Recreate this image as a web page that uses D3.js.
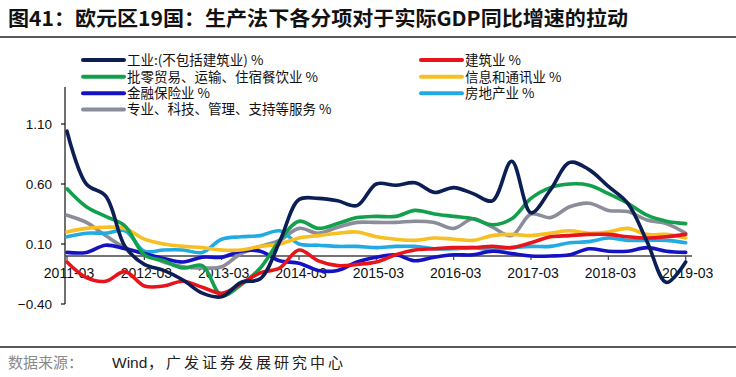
<!DOCTYPE html>
<html>
<head>
<meta charset="utf-8">
<script src="https://cdn.jsdelivr.net/npm/d3@7.9.0/dist/d3.min.js"></script>
<style>
  html, body { margin: 0; padding: 0; background: #fff; }
  svg { display: block; }
</style>
</head>
<body>
<div id="chart"></div>
<script>
// quarterly, 2011Q1 .. 2019Q1
const tickLabels = ["2011-03", "2012-03", "2013-03", "2014-03", "2015-03", "2016-03", "2017-03", "2018-03", "2019-03"];
const yTicks = [-0.40, 0.10, 0.60, 1.10];

const industry = [1.04, 0.60, 0.50, 0.08, -0.07, -0.12, -0.20, -0.31, -0.34, -0.22, -0.19, 0.12, 0.47, 0.48, 0.46, 0.42, 0.60, 0.59, 0.61, 0.53, 0.57, 0.52, 0.46, 0.79, 0.36, 0.55, 0.78, 0.72, 0.58, 0.44, 0.12, -0.22, -0.05];
const construction = [-0.05, -0.18, -0.21, -0.13, -0.25, -0.25, -0.21, -0.26, -0.31, -0.23, -0.14, -0.10, 0.05, -0.04, -0.08, -0.07, -0.05, 0.01, 0.05, 0.06, 0.07, 0.07, 0.08, 0.07, 0.11, 0.16, 0.17, 0.18, 0.18, 0.16, 0.15, 0.16, 0.18];
const trade = [0.56, 0.41, 0.33, 0.25, 0.01, -0.04, -0.10, -0.08, -0.33, -0.24, -0.10, 0.13, 0.29, 0.23, 0.27, 0.32, 0.33, 0.33, 0.38, 0.35, 0.33, 0.31, 0.26, 0.31, 0.48, 0.57, 0.60, 0.59, 0.52, 0.44, 0.34, 0.29, 0.27];
const info = [0.20, 0.23, 0.24, 0.23, 0.14, 0.10, 0.08, 0.07, 0.05, 0.05, 0.08, 0.10, 0.15, 0.17, 0.19, 0.20, 0.16, 0.14, 0.13, 0.15, 0.14, 0.13, 0.17, 0.18, 0.17, 0.19, 0.21, 0.19, 0.20, 0.23, 0.18, 0.18, 0.15];
const finance = [0.03, 0.03, 0.09, 0.06, 0.02, -0.02, -0.05, -0.01, -0.01, 0.04, 0.04, -0.04, -0.06, -0.12, -0.12, -0.05, -0.01, 0.01, -0.04, -0.01, 0.01, 0.01, 0.04, 0.02, 0.00, 0.00, 0.01, 0.06, 0.04, 0.04, 0.07, 0.04, 0.03];
const realEstate = [0.16, 0.19, 0.19, 0.21, 0.04, 0.05, 0.05, 0.03, 0.14, 0.16, 0.17, 0.21, 0.10, 0.09, 0.08, 0.08, 0.07, 0.08, 0.08, 0.06, 0.06, 0.07, 0.05, 0.07, 0.08, 0.08, 0.11, 0.12, 0.15, 0.13, 0.13, 0.13, 0.11];
const professional = [0.34, 0.28, 0.17, 0.07, 0.02, -0.05, -0.09, -0.10, -0.09, 0.02, 0.08, 0.13, 0.23, 0.19, 0.24, 0.28, 0.28, 0.28, 0.29, 0.28, 0.23, 0.31, 0.24, 0.17, 0.35, 0.32, 0.41, 0.44, 0.38, 0.37, 0.30, 0.27, 0.19];

const seriesNames = ["工业:(不包括建筑业) %", "建筑业 %", "批零贸易、运输、住宿餐饮业 %", "信息和通讯业 %", "金融保险业 %", "房地产业 %", "专业、科技、管理、支持等服务 %"];
const seriesColors = ["#0c1f55", "#e8141c", "#13a04c", "#f7bf22", "#1512c4", "#22abe2", "#8b8d9a"];
const seriesValues = [industry, construction, trade, info, finance, realEstate, professional];

const W = 736, H = 377;
const cjk = "'Noto Sans CJK SC', 'Noto Sans', sans-serif";
const latin = "'Liberation Sans', Arial, sans-serif";

const svg = d3.select("#chart").append("svg")
  .attr("width", W)
  .attr("height", H);

// title + rules
svg.append("text")
  .attr("x", 8)
  .attr("y", 26)
  .attr("textLength", 620)
  .attr("lengthAdjust", "spacingAndGlyphs")
  .style("font-family", cjk)
  .style("font-weight", "bold")
  .style("font-size", "20px")
  .style("fill", "#111")
  .text("图41：欧元区19国：生产法下各分项对于实际GDP同比增速的拉动");

svg.append("line")
  .attr("x1", 0).attr("x2", W)
  .attr("y1", 37).attr("y2", 37)
  .attr("stroke", "#222").attr("stroke-width", 1.5);

svg.append("line")
  .attr("x1", 0).attr("x2", W)
  .attr("y1", 347).attr("y2", 347)
  .attr("stroke", "#222").attr("stroke-width", 1.5);

// source
svg.append("text")
  .attr("x", 8)
  .attr("y", 368)
  .style("font-family", cjk)
  .style("font-size", "15px")
  .style("fill", "#8a8a8a")
  .text("数据来源：");

svg.append("text")
  .attr("x", 112)
  .attr("y", 368)
  .style("font-family", latin)
  .style("font-size", "15.5px")
  .style("fill", "#222")
  .text("Wind");

svg.append("text")
  .attr("x", 148)
  .attr("y", 368)
  .attr("textLength", 195)
  .attr("lengthAdjust", "spacing")
  .style("font-family", cjk)
  .style("font-size", "15px")
  .style("fill", "#222")
  .text("，广发证券发展研究中心");

// scales
const x = d3.scaleLinear().domain([0, industry.length - 1]).range([67, 685.7]);
const y = d3.scaleLinear().domain([-0.4, 1.1]).range([304, 124]);

// y axis
const yAxis = svg.append("g").attr("transform", "translate(65,0)");
yAxis.append("line")
  .attr("x1", 0).attr("x2", 0)
  .attr("y1", 87).attr("y2", y(-0.4))
  .attr("stroke", "#111").attr("stroke-width", 1.2);
yAxis.selectAll(".tick")
  .data(yTicks)
  .enter()
  .append("line")
  .attr("x1", -4).attr("x2", 0)
  .attr("y1", d => y(d)).attr("y2", d => y(d))
  .attr("stroke", "#111").attr("stroke-width", 1.2);
yAxis.selectAll("text")
  .data(yTicks)
  .enter()
  .append("text")
  .attr("x", -13)
  .attr("y", d => y(d))
  .attr("dy", "0.35em")
  .attr("text-anchor", "end")
  .style("font-family", latin)
  .style("font-size", "13.5px")
  .style("fill", "#111")
  .text(d => d3.format(".2f")(d));

// x axis on zero line
const xAxis = svg.append("g");
xAxis.append("line")
  .attr("x1", 65).attr("x2", 692)
  .attr("y1", y(0)).attr("y2", y(0))
  .attr("stroke", "#444").attr("stroke-width", 1.5);
xAxis.selectAll(".tick")
  .data(tickLabels)
  .enter()
  .append("line")
  .attr("x1", (d, i) => x(i * 4)).attr("x2", (d, i) => x(i * 4))
  .attr("y1", y(0)).attr("y2", y(0) + 4)
  .attr("stroke", "#444").attr("stroke-width", 1.2);
xAxis.selectAll("text")
  .data(tickLabels)
  .enter()
  .append("text")
  .attr("x", (d, i) => x(i * 4) + 2)
  .attr("y", 278)
  .attr("text-anchor", "middle")
  .style("font-family", latin)
  .style("font-size", "14px")
  .style("fill", "#111")
  .text(d => d);

// lines
const line = d3.line()
  .x((d, i) => x(i))
  .y(d => y(d))
  .curve(d3.curveCatmullRom.alpha(0.5));

const order = [6, 5, 4, 3, 2, 1, 0];
svg.append("g")
  .selectAll("path")
  .data(order)
  .enter()
  .append("path")
  .attr("d", k => line(seriesValues[k]))
  .attr("fill", "none")
  .attr("stroke", k => seriesColors[k])
  .attr("stroke-width", 3.6)
  .attr("stroke-linejoin", "round")
  .attr("stroke-linecap", "round");

// legend
const legendPos = [
  [83, 60], [421, 60],
  [83, 76.7], [421, 76.7],
  [83, 93.3], [421, 93.3],
  [83, 109.5]
];
const legend = svg.append("g");
const item = legend.selectAll("g")
  .data(seriesNames)
  .enter()
  .append("g")
  .attr("transform", (d, i) => `translate(${legendPos[i][0]},${legendPos[i][1]})`);
item.append("line")
  .attr("x1", 0).attr("x2", 41)
  .attr("y1", 0).attr("y2", 0)
  .attr("stroke", (d, i) => seriesColors[i])
  .attr("stroke-width", 4)
  .attr("stroke-linecap", "round");
item.append("text")
  .attr("x", 44)
  .attr("dy", "0.36em")
  .style("font-family", cjk)
  .style("font-size", "13.5px")
  .style("fill", "#111")
  .text(d => d);
</script>
</body>
</html>
